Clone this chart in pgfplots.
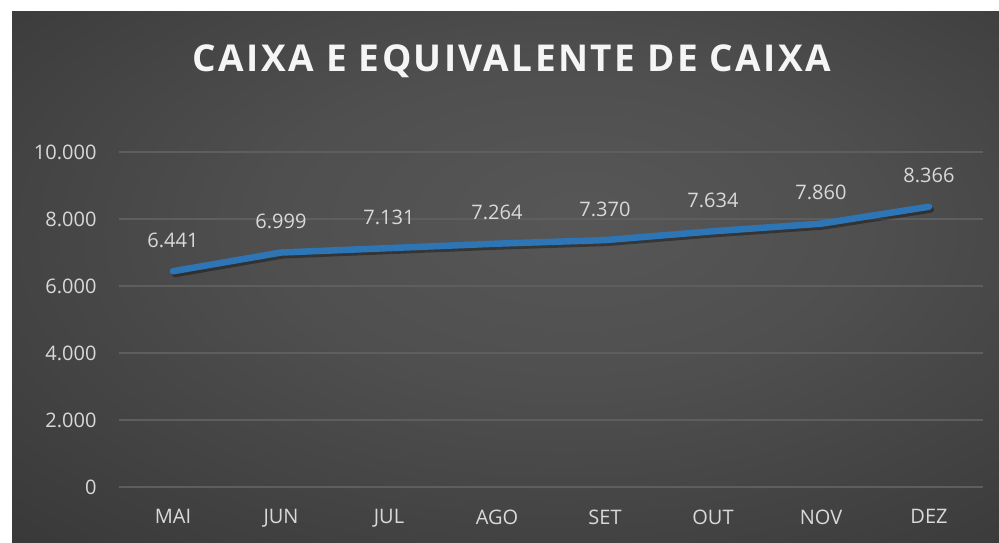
\documentclass[border=0pt]{standalone}
\usepackage{fontspec}
\setmainfont{Open Sans}
\newfontfamily\titlefont[LetterSpace=6.5]{Open Sans}
\usepackage{pgfplots}
\pgfplotsset{compat=1.18}
\definecolor{serie}{HTML}{2E75B6}
\definecolor{lab}{HTML}{D9D9D9}
\definecolor{gridc}{HTML}{5E5E5E}
\pgfdeclareradialshading{bgshade}{\pgfpoint{4bp}{6bp}}{%
  color(0bp)=(black!66!white); color(15bp)=(black!69!white); color(45bp)=(black!80!white); color(75bp)=(black!86!white)}
\begin{document}
\begin{tikzpicture}[x=1pt,y=1pt]
\fill[white] (0,0) rectangle (999,542);
\shade[shading=bgshade] (12,0) rectangle (999,530);
\node[text=white!96!black] at (512,481) {\fontsize{37}{44}\selectfont\titlefont\bfseries CAIXA E EQUIVALENTE DE CAIXA};
\begin{axis}[
  at={(119pt,55pt)}, anchor=south west,
  scale only axis, width=864pt, height=335pt,
  xmin=-0.5, xmax=7.5, ymin=0, ymax=10000,
  axis line style={draw=none},
  major tick length=0pt,
  xtick={0,...,7},
  xticklabels={MAI,JUN,JUL,AGO,SET,OUT,NOV,DEZ},
  ytick={0,2000,4000,6000,8000,10000},
  scaled y ticks=false,
  ymajorgrids, grid style={gridc, line width=1.5pt},
  /pgf/number format/1000 sep={.},
  /pgf/number format/assume math mode=true,
  tick label style={font=\fontsize{20}{24}\selectfont, text=lab},
  yticklabel style={xshift=-19pt},
  xticklabel style={yshift=-19pt},
  clip=false,
]
\addplot[black, opacity=0.35, line width=6pt, line cap=round, line join=round, shift={(2pt,-3pt)}, forget plot]
  coordinates {(0,6441) (1,6999) (2,7131) (3,7264) (4,7370) (5,7634) (6,7860) (7,8366)};
\addplot[serie, line width=6.5pt, line cap=round, line join=round,
  nodes near coords={\pgfmathprintnumber{\pgfplotspointmeta}},
  every node near coord/.style={anchor=base, yshift=24pt, text=lab, font=\fontsize{20}{24}\selectfont, opacity=1}]
  coordinates {(0,6441) (1,6999) (2,7131) (3,7264) (4,7370) (5,7634) (6,7860) (7,8366)};
\end{axis}
\end{tikzpicture}
\end{document}
